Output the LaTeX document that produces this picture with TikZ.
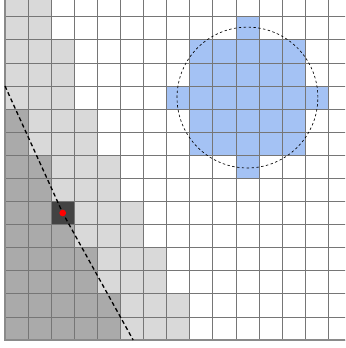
\documentclass[tikz,border=0pt]{standalone}
\definecolor{lg}{HTML}{D9D9D9}
\definecolor{dg}{HTML}{AAAAAA}
\definecolor{bk}{HTML}{434343}
\definecolor{bl}{HTML}{A4C2F4}
\definecolor{gridc}{HTML}{767676}
\definecolor{bordc}{HTML}{8A8A8A}
\begin{document}
\begin{tikzpicture}[x=1cm,y=1cm,
  gridline/.style={draw=gridc, line width=0.9pt},
  border/.style={draw=bordc, line width=2.6pt},
  pathline/.style={draw=black, line width=1.6pt, dash pattern=on 5pt off 3.5pt},
  reddot/.style={circle, fill=red, inner sep=0pt, minimum size=0.29cm},
  zone/.style={circle, draw=black, line width=0.8pt, dash pattern=on 3pt off 3pt, inner sep=0pt, minimum size=6.1cm}]
\useasboundingbox (-0.2165,-0.3465) rectangle (14.725,14.725);
\clip (-0.2165,-0.3465) rectangle (14.725,14.725);
% gray cells: row / last dark col / last light col
\foreach \r/\a/\b in {0/4/7,1/4/7,2/3/6,3/3/6,4/2/5,5/2/5,6/1/4,7/1/4,8/0/3,9/0/3,10/-1/2,11/-1/2,12/-1/2,13/-1/1,14/-1/1}{
  \fill[lg] (0,\r) rectangle (\b+1,\r+1);
  \fill[dg] (0,\r) rectangle (\a+1,\r+1);
}
\fill[bk] (2,5) rectangle (3,6);
% blue disc of cells
\fill[bl] (8,8) rectangle (13,13);
\fill[bl] (7,10) rectangle (14,11);
\fill[bl] (10,7) rectangle (11,14);
% grid
\draw[gridline] (0,0) grid (15,15);
\draw[border] (0,15) -- (0,0) -- (15,0);
% dashed path and point
\coordinate (top) at (0,11);
\coordinate (bot) at (5.55,0);
\coordinate (pc) at (2.5,5.5);
\draw[pathline] (top) -- (pc) -- (bot);
\node[reddot] (p) at (pc) {};
% dashed circle
\node[zone] (c) at (10.5,10.5) {};
\end{tikzpicture}
\end{document}
